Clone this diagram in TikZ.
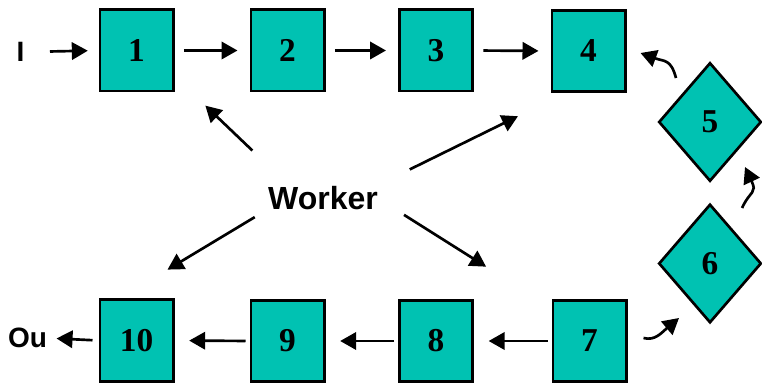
\documentclass[tikz,border=0pt]{standalone}
\usepackage{fontspec}
\setmainfont{Liberation Serif}
\setsansfont{Liberation Sans}
\usetikzlibrary{arrows.meta}
\usetikzlibrary{shapes.geometric}

\definecolor{stagefill}{RGB}{0,194,178}

\begin{document}
\begin{tikzpicture}[%
  >={Triangle[length=12pt,width=13pt]},
  x=0.75pt, y=0.75pt,
  % scale=0.8,
  stage/.style={draw, line width=2pt, fill=stagefill, inner sep=0pt,
    minimum width=55pt, minimum height=61pt,
    font=\fontsize{25}{30}\selectfont\bfseries},
  turn/.style={stage, diamond, minimum width=77pt, minimum height=89pt},
  tag/.style={inner sep=0pt, font=\fontsize{21}{25}\selectfont\sffamily\bfseries},
  boss/.style={inner sep=0pt, font=\fontsize{24}{29}\selectfont\sffamily\bfseries},
  flow/.style={->, line width=2pt},
]

  \useasboundingbox (0,0) rectangle (762,385);

  % top row
  \node[stage] (b1) at (136.5,334.5) {1};
  \node[stage] (b2) at (287.5,334.5) {2};
  \node[stage] (b3) at (436,334.5) {3};
  \node[stage] (b4) at (588.5,334) {4};

  % turning at the right
  \node[turn] (b5) at (710,263) {5};
  \node[turn] (b6) at (710,121.5) {6};

  % bottom row
  \node[stage] (b7) at (589.5,44) {7};
  \node[stage] (b8) at (436,44) {8};
  \node[stage] (b9) at (287.5,44) {9};
  \node[stage] (b10) at (136.5,44.5) {10};

  \node[tag] (i) at (20.5,333) {I};
  \node[tag] (o) at (27.5,47) {Ou};
  \node[boss] (w) at (323,186.5) {Worker};

  \draw[flow, shorten <=19pt, shorten >=8pt] (i.east) -- (b1.west);
  \draw[flow, shorten <=7pt, shorten >=9pt] (b1.east) -- (b2.west);
  \draw[flow, shorten <=7pt, shorten >=9pt] (b2.east) -- (b3.west);
  \draw[flow, shorten <=7pt, shorten >=9pt] (b3.east) -- (b4.west);

  \draw[flow] ([shift={(-34,44)}]b5.center)
    to[out=105, in=-20, out distance=15pt, in distance=19pt] ([shift={(14,-2)}]b4.east);
  \draw[flow] ([shift={(32,55.5)}]b6.center)
    to[out=65, in=-65, out distance=15pt, in distance=22pt] ([shift={(35,-45)}]b5.center);
  \draw[flow] ([shift={(16,3)}]b7.east)
    to[out=-15, in=-140, out distance=9pt, in distance=17pt] ([shift={(-31,-54.5)}]b6.center);

  \draw[flow, shorten <=3pt, shorten >=11pt] (b7.west) -- (b8.east);
  \draw[flow, shorten <=3pt, shorten >=11pt] (b8.west) -- (b9.east);
  \draw[flow, shorten <=3pt, shorten >=11pt] (b9.west) -- (b10.east);
  \draw[flow, shorten <=4.5pt, shorten >=7pt] (b10.west) -- (o.east);

  % worker to the corners
  \draw[flow, shorten <=39pt, shorten >=32pt] (w.160) -- (b1.-34);
  \draw[flow, shorten <=29pt, shorten >=39.5pt] (w.13) -- (b4.-119);
  \draw[flow, shorten <=11.5pt, shorten >=42pt] (w.-169) -- (b10.112);
  \draw[flow, shorten <=23pt, shorten >=58pt] (w.east) -- (b7.139);

\end{tikzpicture}
\end{document}
